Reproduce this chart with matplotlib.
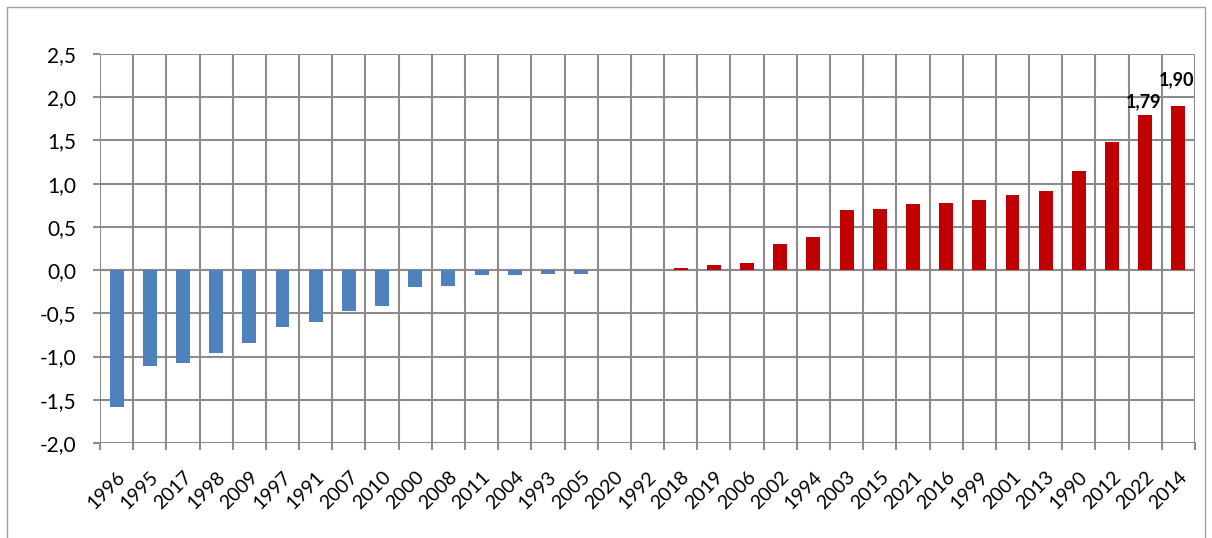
import matplotlib.pyplot as plt
from matplotlib.patches import Rectangle

plt.rcParams['font.family'] = ['Lato', 'DejaVu Sans']

# years in sorted order and their values
years = ['1996', '1995', '2017', '1998', '2009', '1997', '1991', '2007', '2010',
         '2000', '2008', '2011', '2004', '1993', '2005', '2020', '1992', '2018',
         '2019', '2006', '2002', '1994', '2003', '2015', '2021', '2016', '1999',
         '2001', '2013', '1990', '2012', '2022', '2014']
values = [-1.58, -1.11, -1.07, -0.96, -0.84, -0.66, -0.60, -0.47, -0.42,
          -0.20, -0.18, -0.06, -0.06, -0.04, -0.04, 0.0, 0.0, 0.03,
          0.06, 0.08, 0.30, 0.38, 0.69, 0.71, 0.76, 0.78, 0.81,
          0.87, 0.92, 1.15, 1.48, 1.79, 1.90]
labeled = {'2022': 4, '2014': 13}  # year -> label offset in points
yticks = [-2.0, -1.5, -1.0, -0.5, 0.0, 0.5, 1.0, 1.5, 2.0, 2.5]

blue = '#4F81BD'
red = '#C00000'
grid = '#8C8C8C'

fig = plt.figure(figsize=(12.12, 5.38), dpi=100)
ax = fig.add_axes([100 / 1212, 1 - 443 / 538, 1095 / 1212, 389 / 538])

x = list(range(len(years)))
colors = [blue if v < 0 else red for v in values]
ax.bar(x, values, width=0.42, color=colors, zorder=3)

for i, (y, v) in enumerate(zip(years, values)):
    if y in labeled:
        ax.annotate(f"{v:.2f}".replace('.', ','), (i - 0.05, v),
                    xytext=(0, labeled[y]), textcoords='offset points',
                    ha='center', va='bottom', fontsize=13, fontweight='bold', zorder=4)

ax.set_xlim(-0.5, len(years) - 0.5)
ax.set_ylim(-2.0, 2.5)

# horizontal gridlines
ax.set_yticks(yticks)
ax.set_yticklabels([f"{t:.1f}".replace('.', ',') for t in yticks], fontsize=15)
ax.yaxis.grid(True, color=grid, linewidth=1.5, zorder=0)

# vertical gridlines at category boundaries
for b in range(len(years) + 1):
    ax.axvline(b - 0.5, color=grid, linewidth=1.5, zorder=0)

ax.set_xticks(x)
ax.set_xticklabels(years, rotation=45, ha='right', rotation_mode='anchor', fontsize=14)
ax.tick_params(axis='x', length=0, pad=18)
ax.tick_params(axis='y', length=5, width=1.5, color=grid, pad=12)

# small tick marks below the axis at boundaries
for b in range(len(years) + 1):
    ax.plot([b - 0.5, b - 0.5], [-2.0, -2.07], color=grid, linewidth=1.5,
            clip_on=False, zorder=1)

for s in ax.spines.values():
    s.set_visible(False)
ax.axhline(0, color=grid, linewidth=1.5, zorder=2)

# chart area border
fig.patches.append(Rectangle((7 / 1212, -0.01), 1198 / 1212, 1 - 7 / 538 + 0.01,
                             transform=fig.transFigure, fill=False,
                             edgecolor='#A0A0A0', linewidth=1))

fig.savefig('out.png', dpi=100)
